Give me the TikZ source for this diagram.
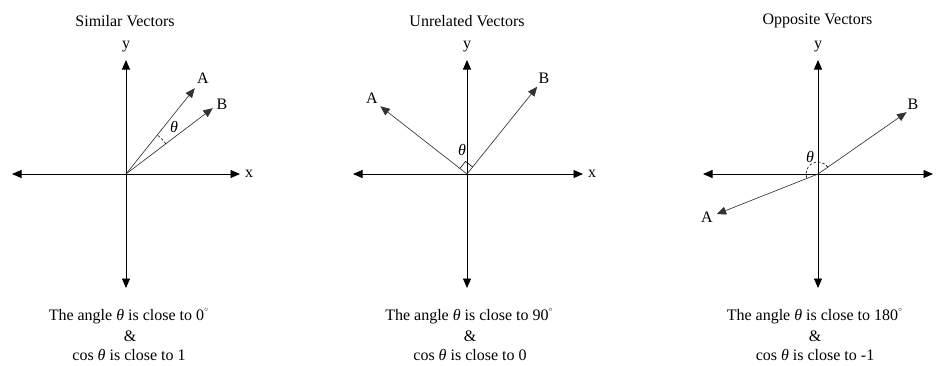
\documentclass[tikz,border=0pt]{standalone}
\usepackage{fontspec}
\setmainfont{Liberation Serif}
\usetikzlibrary{arrows.meta,calc}
\newcommand\thet{\textit{θ}}
\newcommand\degr{\raisebox{1.25ex}{\fontsize{7}{7}\selectfont$\circ$}}
\begin{document}
\begin{tikzpicture}[x=1pt,y=1pt,
  every node/.style={font=\fontsize{16}{19}\selectfont, inner sep=0pt},
  axis/.style={line width=0.9pt, {Triangle[length=9.5pt,width=8pt]}-{Triangle[length=9.5pt,width=8pt]}},
  vec/.style={line width=0.65pt, black!80, -{Triangle[length=9.5pt,width=8pt]}},
  angarc/.style={line width=0.6pt, dash pattern=on 2.5pt off 2pt}]
\useasboundingbox (0,0) rectangle (936,-365);

% ---------- Panel 1 ----------
\node (t1) at (125,-21) {Similar Vectors};
\begin{scope}[shift={(126,-174)}]
  \coordinate (O1) at (0,0);
  \coordinate (L1) at (-114,0);
  \coordinate (R1) at (114,0);
  \coordinate (T1) at (0,114);
  \coordinate (D1) at (0,-114);
  \draw[axis] (L1) -- (R1);
  \draw[axis] (D1) -- (T1);
  \coordinate (A1) at (51.3:110);
  \coordinate (B1) at (37.2:109);
  \draw[vec] (O1) -- (A1);
  \draw[vec] (O1) -- (B1);
  \draw[angarc] (37.2:50) arc (37.2:51.3:50);
  \node (x1) at (123,0) {x};
  \node (y1) at (0,127) {y};
  \node (a1) at (77,96) {A};
  \node (b1) at (96,70) {B};
  \node (h1) at (48,47) {\thet};
\end{scope}
\node (c1) at (128.5,-316) {The angle \thet\ is close to 0\degr};
\node (m1) at (130,-336) {\&};
\node (d1) at (129,-355) {cos \thet\ is close to 1};

% ---------- Panel 2 ----------
\node (t2) at (467,-21) {Unrelated Vectors};
\begin{scope}[shift={(467,-174)}]
  \coordinate (O2) at (0,0);
  \coordinate (L2) at (-114,0);
  \coordinate (R2) at (116,0);
  \coordinate (T2) at (0,114);
  \coordinate (D2) at (0,-114);
  \draw[axis] (L2) -- (R2);
  \draw[axis] (D2) -- (T2);
  \coordinate (A2) at (142:110);
  \coordinate (B2) at (51.2:112);
  \draw[vec] (O2) -- (A2);
  \draw[vec] (O2) -- (B2);
  \draw[line width=0.6pt] (51.2:9) -- ($(51.2:9)+(142:9)$) -- (142:9);
  \node (x2) at (125,0) {x};
  \node (y2) at (0,127) {y};
  \node (a2) at (-95,76) {A};
  \node (b2) at (77,96) {B};
  \node (h2) at (-5,24) {\thet};
\end{scope}
\node (c2) at (469,-316) {The angle \thet\ is close to 90\degr};
\node (m2) at (470,-336) {\&};
\node (d2) at (470,-355) {cos \thet\ is close to 0};

% ---------- Panel 3 ----------
\node (t3) at (817.5,-21) {Opposite Vectors};
\begin{scope}[shift={(818,-174)}]
  \coordinate (O3) at (0,0);
  \coordinate (L3) at (-115,0);
  \coordinate (R3) at (115,0);
  \coordinate (T3) at (0,114);
  \coordinate (D3) at (0,-114);
  \draw[axis] (L3) -- (R3);
  \draw[axis] (D3) -- (T3);
  \coordinate (A3) at (201.6:109);
  \coordinate (B3) at (34.9:108);
  \draw[vec] (O3) -- (A3);
  \draw[vec] (O3) -- (B3);
  \draw[angarc] (34.9:12) arc (34.9:201.6:12);
  \node (y3) at (0,127) {y};
  \node (a3) at (-111,-43) {A};
  \node (b3) at (95,70) {B};
  \node (h3) at (-8,17) {\thet};
\end{scope}
\node (c3) at (814.5,-316) {The angle \thet\ is close to 180\degr};
\node (m3) at (815,-336) {\&};
\node (d3) at (815,-355) {cos \thet\ is close to -1};
\end{tikzpicture}
\end{document}
